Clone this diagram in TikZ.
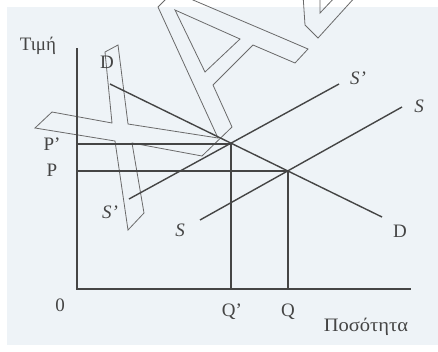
\documentclass[tikz,border=0pt]{standalone}
\usepackage{fontspec}
\setmainfont{Liberation Serif}
\definecolor{bg}{HTML}{EEF3F7}
\definecolor{ink}{HTML}{454545}
\definecolor{wm}{HTML}{6A6A6A}
\begin{document}
\begin{tikzpicture}[x=1pt,y=-1pt,
  lbl/.style={font=\fontsize{19}{19}\selectfont, text=ink, inner sep=0pt},
  slbl/.style={lbl, font=\fontsize{19}{19}\selectfont\itshape},
  curve/.style={draw=ink, line width=1.4pt},
  guide/.style={draw=ink, line width=1.3pt},
  wmline/.style={draw=wm, line width=0.8pt, line join=miter}]
\useasboundingbox (0,0) rectangle (438,351);
\fill[white] (0,0) rectangle (438,351);
\fill[bg] (7,7) rectangle (438,345);
% watermark outline letters
\begin{scope}
\clip (0,0) rectangle (438,351);
\draw[wmline] (118,45) -- (105,52) -- (112,123) -- (52,112) -- (35,128) -- (115,141)
  -- (128,230) -- (144,213) -- (132,143) -- (202,156) -- (232,127) -- (213,85)
  -- (253,45) -- (295,63) -- (308,49) -- (280,37) -- (193,0) -- (175,-8) -- (165,0)
  -- (158,7) -- (218,138) -- (128,124) -- cycle;
\draw[wmline] (175,10) -- (240,39) -- (205,72) -- cycle;
\draw[wmline] (303,-5) -- (305,25) -- (318,38) -- (357,-5);
\draw[wmline] (320,-5) -- (320,13) -- (337,-5);
\end{scope}
% coordinates
\coordinate (O) at (77,289);
\coordinate (Ytop) at (77,48);
\coordinate (Xend) at (411,289);
\coordinate (E1) at (231,144);
\coordinate (E0) at (288,171);
\coordinate (Pp) at (77,144);
\coordinate (P) at (77,171);
\coordinate (Qp) at (231,289);
\coordinate (Q) at (288,289);
\coordinate (D1) at (110,84);
\coordinate (D2) at (382,217);
\coordinate (Sp1) at (129,199);
\coordinate (Sp2) at (339,84);
\coordinate (S1) at (200,220);
\coordinate (S2) at (402,107);
% axes
\draw[guide] (Ytop) -- (O) -- (Xend);
% guides
\draw[guide] (Pp) -- (E1) -- (Qp);
\draw[guide] (P) -- (E0) -- (Q);
% curves
\draw[curve] (D1) -- (D2);
\draw[curve] (Sp1) -- (Sp2);
\draw[curve] (S1) -- (S2);
% labels
\node[lbl] (ylab) at (38,46) {Τιμή};
\node[lbl, xscale=1.08] (xlab) at (366,327) {Ποσότητα};
\node[lbl] (dtop) at (107,62) {D};
\node[lbl] (dbot) at (400,231) {D};
\node[slbl] (sptop) at (358,78) {S'};
\node[slbl] (spbot) at (110,212) {S'};
\node[slbl] (stop) at (419,106) {S};
\node[slbl] (sbot) at (180,230) {S};
\node[lbl] (pplab) at (52,144) {P'};
\node[lbl] (plab) at (52,170) {P};
\node[lbl] (olab) at (60,305) {0};
\node[lbl] (qplab) at (232,312) {Q'};
\node[lbl] (qlab) at (288,312) {Q};
\end{tikzpicture}
\end{document}
